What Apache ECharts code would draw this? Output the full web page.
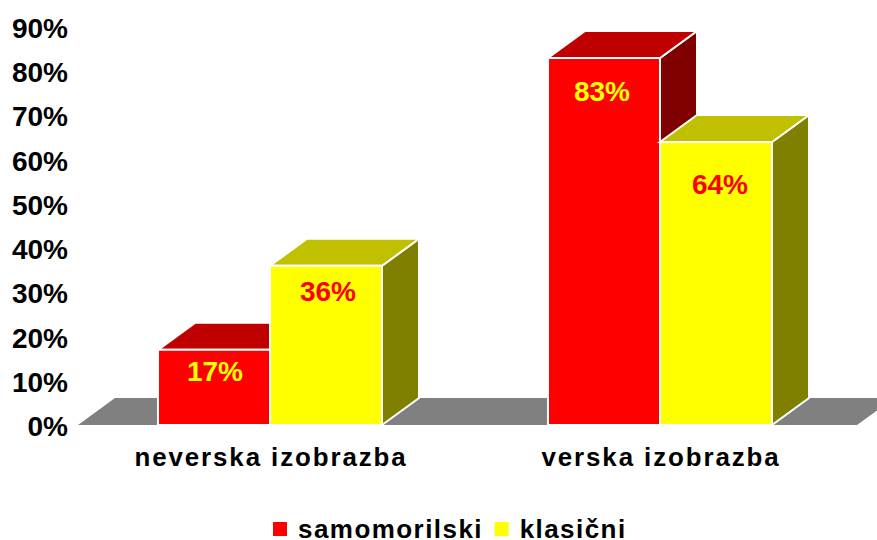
<!DOCTYPE html>
<html><head><meta charset="utf-8">
<style>
html,body{margin:0;padding:0;background:#fff;overflow:hidden}
#c{width:877px;height:540px}
text[style*="25.9px"]{letter-spacing:1.9px}
text[style*="26px"]{letter-spacing:1.45px}
</style>
<script src="https://cdn.jsdelivr.net/npm/echarts@6/dist/echarts.min.js"></script>
</head><body><div id="c"></div>
<script>
const categories = ['neverska izobrazba', 'verska izobrazba'];
const samomorilski = [17, 83];
const klasicni = [36, 64];
const yTicks = { min: 0, max: 90, interval: 10 };

const DX = 37, DY = 27, BAR_FRAC = 112 / 390;
const FONT = '"Liberation Sans", Arial, sans-serif';
const labelDrop = { samomorilski: [22, 34], klasicni: [26, 43] };
const labelShift = { samomorilski: [1, -2], klasicni: [2, 4] };

function face(points, fill) {
  return { type: 'polygon', shape: { points }, style: { fill, stroke: '#fff', lineWidth: 2, lineJoin: 'miter' } };
}
function barRender(side, key, front, top, dark, textColor) {
  return function (params, api) {
    const i = api.value(0), v = api.value(1);
    const base = api.coord([i, 0]), tip = api.coord([i, v]);
    const w = api.size([1, 0])[0] * BAR_FRAC;
    const x0 = base[0] + (side < 0 ? -w : 0), x1 = x0 + w, y0 = base[1], y1 = tip[1];
    return {
      type: 'group',
      children: [
        face([[x1, y0], [x1 + DX, y0 - DY], [x1 + DX, y1 - DY], [x1, y1]], dark),
        face([[x0, y1], [x0 + DX, y1 - DY], [x1 + DX, y1 - DY], [x1, y1]], top),
        face([[x0, y0], [x1, y0], [x1, y1], [x0, y1]], front),
        { type: 'text', z2: 10, style: {
            text: v + '%', x: (x0 + x1) / 2 + labelShift[key][i], y: y1 + labelDrop[key][i],
            fill: textColor, font: 'bold 28px ' + FONT, align: 'center', verticalAlign: 'middle' } }
      ]
    };
  };
}
const chart = echarts.init(document.getElementById('c'), null, { renderer: 'svg' });
chart.setOption({
  animation: false,
  backgroundColor: '#fff',
  grid: { left: 75, width: 780, top: 27, height: 398 },
  xAxis: {
    type: 'category', data: categories,
    axisLine: { show: false }, axisTick: { show: false },
    axisLabel: { color: '#000', fontWeight: 'bold', fontSize: 25.9, fontFamily: FONT, margin: 19, padding: [0, 0, 0, 2] }
  },
  yAxis: {
    type: 'value', min: yTicks.min, max: yTicks.max, interval: yTicks.interval,
    axisLine: { show: false }, axisTick: { show: false }, splitLine: { show: false },
    axisLabel: { formatter: '{value}%', color: '#000', fontWeight: 'bold', fontSize: 28, fontFamily: FONT, margin: 7, verticalAlign: 'top', lineHeight: 3 }
  },
  legend: {
    data: ['samomorilski', 'klasični'], left: 273, top: 516,
    icon: 'rect', itemWidth: 14, itemHeight: 14, itemGap: 29, padding: 0,
    textStyle: { color: '#000', fontWeight: 'bold', fontSize: 26, fontFamily: FONT, lineHeight: 20, padding: [0, 0, 4, 6] }
  },
  series: [
    { type: 'custom', silent: true, z: 1, data: [0], renderItem(params, api) {
        const cs = params.coordSys, y = cs.y + cs.height;
        const a = cs.x + 3, b = cs.x + cs.width + 2;
        return { type: 'polygon', shape: { points: [[a, y], [b, y], [b + DX, y - DY], [a + DX, y - DY]] }, style: { fill: '#808080' } };
      } },
    { name: 'samomorilski', type: 'custom', z: 2, silent: true, itemStyle: { color: '#ff0000' },
      data: samomorilski.map((v, i) => [i, v]), encode: { x: 0, y: 1 },
      renderItem: barRender(-1, 'samomorilski', '#ff0000', '#c00000', '#800000', '#ffff00') },
    { name: 'klasični', type: 'custom', z: 3, silent: true, itemStyle: { color: '#ffff00' },
      data: klasicni.map((v, i) => [i, v]), encode: { x: 0, y: 1 },
      renderItem: barRender(1, 'klasicni', '#ffff00', '#c0c000', '#808000', '#ff0000') }
  ]
});
</script></body></html>
